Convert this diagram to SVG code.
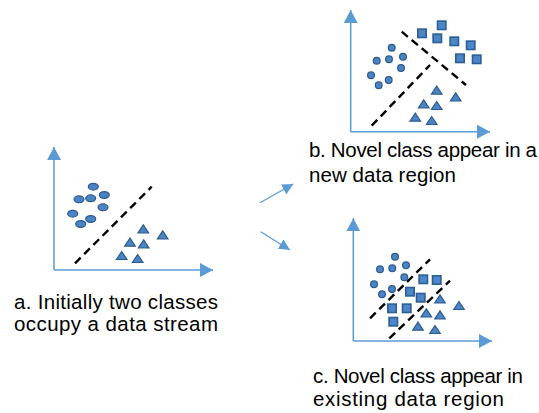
<svg xmlns="http://www.w3.org/2000/svg" xmlns:xlink="http://www.w3.org/1999/xlink" width="539" height="413" viewBox="0 0 539 413">
<style>
.axis{stroke:#5B9BD5;stroke-width:1.5;fill:none}
.dash{stroke:#000;stroke-width:2.4;stroke-dasharray:8,5;fill:none}
.pt{fill:#4A84C4;stroke:#2C5C8E;stroke-width:1.2}
.sq{fill:#4A86C8;stroke:#2E5F93;stroke-width:1.6}
.conn{stroke:#5B9BD5;stroke-width:1.3;fill:none}
.lbl{font-family:"Liberation Sans",Arial,sans-serif;font-size:20.5px;fill:#000}
</style>
<defs>
<marker id="ax" markerUnits="userSpaceOnUse" markerWidth="14" markerHeight="15" refX="13" refY="7" orient="auto"><path d="M0,0 L13,7 L0,14 z" fill="#5B9BD5"/></marker>
<marker id="ar" markerUnits="userSpaceOnUse" markerWidth="12" markerHeight="12" refX="11" refY="5.5" orient="auto"><path d="M0,0 L11,5.5 L0,11 z" fill="#5B9BD5"/></marker>
<ellipse id="e" rx="5" ry="3.4"/>
<circle id="c" r="3.4"/>
<rect id="s" x="-4.2" y="-4.2" width="8.4" height="8.4"/>
<polygon id="t" points="0,-4.5 5.3,3.5 -5.3,3.5"/>
</defs>
<rect width="539" height="413" fill="#fff"/>

<g id="panel-a">
<line class="axis" x1="54" y1="270" x2="54" y2="147" marker-end="url(#ax)"/>
<line class="axis" x1="54" y1="270" x2="213" y2="270" marker-end="url(#ax)"/>
<line class="dash" x1="75" y1="263.3" x2="151.7" y2="186.7"/>
<g class="pt">
<use href="#e" x="93.3" y="186.7"/><use href="#e" x="79" y="199.3"/><use href="#e" x="90.7" y="198.3"/><use href="#e" x="104.3" y="195"/>
<use href="#e" x="103" y="207.3"/><use href="#e" x="72.7" y="213.7"/><use href="#e" x="90.7" y="219"/><use href="#e" x="80.7" y="224"/>
<use href="#t" x="143.3" y="229.3"/><use href="#t" x="162.7" y="235.3"/><use href="#t" x="130" y="242.7"/><use href="#t" x="143.7" y="244.3"/>
<use href="#t" x="121.7" y="256"/><use href="#t" x="137.7" y="259"/>
</g>
<text class="lbl" x="14" y="308.5" textLength="204">a. Initially two classes</text>
<text class="lbl" x="14" y="330.5" textLength="204">occupy a data stream</text>
</g>

<g id="panel-b">
<line class="axis" x1="350.7" y1="131.7" x2="350.7" y2="10" marker-end="url(#ax)"/>
<line class="axis" x1="350.7" y1="131.7" x2="490" y2="131.7" marker-end="url(#ax)"/>
<line class="dash" x1="401.7" y1="31.7" x2="466" y2="85"/>
<line class="dash" x1="371.7" y1="125.7" x2="430" y2="65"/>
<g class="pt">
<use href="#c" x="391.7" y="47.7"/><use href="#c" x="376.7" y="60.7"/><use href="#c" x="389" y="59.3"/><use href="#c" x="403" y="56.7"/>
<use href="#c" x="401" y="68"/><use href="#c" x="371" y="75.3"/><use href="#c" x="388.7" y="80"/><use href="#c" x="378.7" y="85.3"/>
<use href="#t" x="436.7" y="90.7"/><use href="#t" x="455.7" y="97.3"/><use href="#t" x="423.7" y="104.3"/><use href="#t" x="436.7" y="106"/>
<use href="#t" x="415.3" y="117.7"/><use href="#t" x="431.7" y="121"/>
</g>
<g class="sq">
<use href="#s" x="441.7" y="25.3"/><use href="#s" x="422" y="33.3"/><use href="#s" x="437.3" y="38.3"/><use href="#s" x="454.3" y="41.3"/>
<use href="#s" x="470.7" y="45.3"/><use href="#s" x="460" y="58.3"/><use href="#s" x="476.7" y="59.3"/>
</g>
<text class="lbl" x="309" y="157" textLength="228">b. Novel class appear in a</text>
<text class="lbl" x="309" y="181.5" textLength="147">new data region</text>
</g>

<g id="panel-c">
<line class="axis" x1="353.3" y1="341" x2="353.3" y2="218.3" marker-end="url(#ax)"/>
<line class="axis" x1="353.3" y1="341" x2="492" y2="341" marker-end="url(#ax)"/>
<line class="dash" x1="370" y1="318.3" x2="430" y2="259.3"/>
<line class="dash" x1="389.3" y1="338.3" x2="450" y2="280.7"/>
<g class="pt">
<use href="#c" x="395" y="256.7"/><use href="#c" x="380" y="269.3"/><use href="#c" x="392.3" y="268.3"/><use href="#c" x="406" y="265.3"/>
<use href="#c" x="404.3" y="277.3"/><use href="#c" x="374" y="284.3"/><use href="#c" x="392" y="289"/><use href="#c" x="382" y="294.3"/>
<use href="#t" x="440" y="299.3"/><use href="#t" x="459" y="306"/><use href="#t" x="426.3" y="313.3"/><use href="#t" x="440" y="315.3"/>
<use href="#t" x="418" y="326.7"/><use href="#t" x="435" y="330"/>
</g>
<g class="sq">
<use href="#s" x="423.3" y="279.3"/><use href="#s" x="436.7" y="280"/><use href="#s" x="410" y="291.7"/><use href="#s" x="420.7" y="297.7"/>
<use href="#s" x="392" y="308.3"/><use href="#s" x="406.7" y="308.3"/><use href="#s" x="393.3" y="321.7"/>
</g>
<text class="lbl" x="313" y="383" textLength="210">c. Novel class appear in</text>
<text class="lbl" x="313" y="406" textLength="191">existing data region</text>
</g>

<g id="connectors">
<line class="conn" x1="260" y1="202.7" x2="293.3" y2="184" marker-end="url(#ar)"/>
<line class="conn" x1="260.7" y1="231.7" x2="290" y2="250" marker-end="url(#ar)"/>
</g>
</svg>
